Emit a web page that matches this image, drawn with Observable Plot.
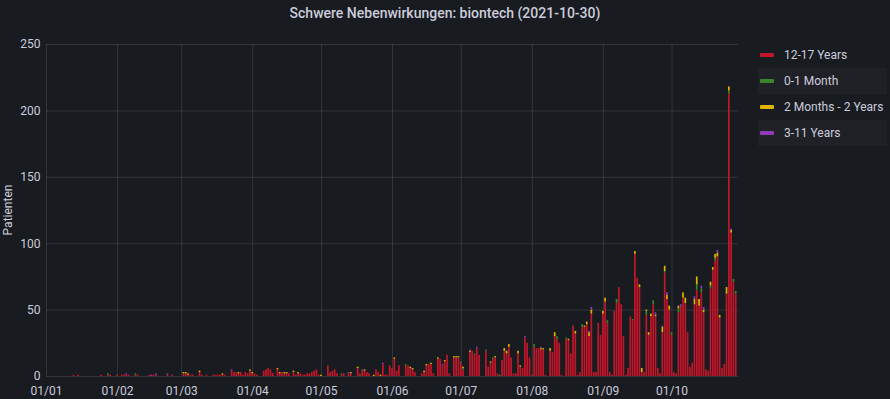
<!DOCTYPE html>
<html><head><meta charset="utf-8">
<script src="https://cdn.jsdelivr.net/npm/d3@7"></script>
<script src="https://cdn.jsdelivr.net/npm/@observablehq/plot@0.6"></script>
<style>
html,body{margin:0;padding:0;background:#181b1f;}
#wrap{position:relative;width:890px;height:399px;background:#181b1f;font-family:Roboto,sans-serif;color:#ccccdc;overflow:hidden}
#title{position:absolute;left:0;top:5px;width:890px;text-align:center;font-size:14px;font-weight:500;line-height:17px}
#chart{position:absolute;left:0;top:30px}
#ylabel{position:absolute;left:8px;top:210px;transform:translate(-50%,-50%) rotate(-90deg);font-size:12px;white-space:nowrap;line-height:14px}
#legend{position:absolute;left:758px;top:42px;width:129px}
.item{height:26px;display:flex;align-items:center;font-size:12px}
.item:nth-child(even){background:#1f2126}
.sw{width:14px;height:4px;margin-left:2px;margin-right:10px;border-radius:1px;flex:none}
</style></head>
<body>
<div id="wrap">
  <div id="title">Schwere Nebenwirkungen: biontech (2021-10-30)</div>
  <div id="chart"></div>
  <div id="ylabel">Patienten</div>
  <div id="legend"></div>
</div>
<script>
const seriesNames = ["12-17 Years", "0-1 Month", "2 Months - 2 Years", "3-11 Years"];
const seriesColors = ["#c4162a", "#37872d", "#e0b400", "#8f3bb8"];
const startDate = "2021-01-01";
const endDate = "2021-10-30";
const monthTicks = ["2021-01-01","2021-02-01","2021-03-01","2021-04-01","2021-05-01","2021-06-01","2021-07-01","2021-08-01","2021-09-01","2021-10-01"];
const yTicks = [0, 50, 100, 150, 200, 250];

// daily values from 2021-01-01 to 2021-10-29
const years12to17 = [
  /* Jan */ 0,0,0,0,0,0,0,0,0,0, 0,0,1,0,1,0,0,0,0,0, 0,0,0,0,1,0,0,1,1,0, 0,
  /* Feb */ 1,0,1,1,1,1,0,0,1,1, 0,0,0,0,1,0,1,1,0,0, 0,0,1,0,1,0,0,0,
  /* Mar */ 0,2,2,1,1,1,0,0,3,1, 0,1,0,0,1,1,1,1,1,1, 0,0,4,3,3,2,3,1,3,2, 4,
  /* Apr */ 2,2,1,0,0,4,5,6,5,2, 0,5,2,3,2,2,2,0,3,1, 2,2,1,1,2,2,3,4,5,1,
  /* May */ 0,0,0,8,3,4,5,2,0,1, 2,0,2,2,0,0,6,2,4,4, 3,2,0,0,5,3,0,9,1,1, 8,
  /* Jun */ 6,13,4,8,0,0,8,8,6,5, 3,0,0,2,3,8,9,9,2,0, 13,13,8,11,16,2,0,14,14,14,
  /* Jul */ 10,5,0,0,18,19,16,21,16,0, 0,19,7,10,13,14,2,0,12,19, 17,22,14,2,2,17,7,6,29,25, 14,
  /* Aug */ 1,22,21,21,20,20,1,0,19,18, 30,28,25,1,0,28,27,17,38,32, 1,3,37,37,39,30,47,3,3,40, 31,
  /* Sep */ 47,56,40,3,1,49,55,67,54,30, 1,6,45,42,92,74,67,3,3,46, 31,45,54,45,6,2,33,78,58,50,
  /* Oct */ 31,3,2,48,52,59,55,33,7,10, 54,65,53,63,48,5,4,66,80,87, 90,44,6,9,62,213,108,71,62
];
const month0to1 = [
  /* Jan */ 0,0,0,0,0,0,0,0,0,0, 0,0,0,0,0,0,0,0,0,0, 0,0,0,0,0,0,0,1,0,0, 0,
  /* Feb */ 0,0,0,0,0,0,0,0,1,0, 0,0,0,0,0,0,0,0,0,0, 0,0,0,0,0,0,0,0,
  /* Mar */ 0,0,0,0,0,0,0,0,0,0, 0,0,0,0,0,0,0,0,0,0, 0,0,0,0,0,0,0,0,0,0, 0,
  /* Apr */ 0,0,0,0,0,0,0,0,0,0, 0,0,0,0,0,0,0,0,0,0, 0,0,0,0,0,0,0,0,0,0,
  /* May */ 0,0,0,0,0,0,0,0,0,1, 0,0,0,0,0,0,0,0,0,0, 0,0,0,0,0,0,0,0,0,0, 0,
  /* Jun */ 0,0,0,0,0,0,1,0,0,0, 0,0,0,0,0,0,0,0,0,0, 0,0,0,0,0,0,0,0,0,0,
  /* Jul */ 1,1,0,0,0,0,1,0,0,0, 0,1,0,0,1,0,0,1,0,0, 0,0,0,0,0,0,0,0,0,0, 0,
  /* Aug */ 0,2,0,0,0,0,0,0,0,0, 0,2,0,0,0,1,0,0,0,0, 0,0,2,0,0,0,0,0,0,0, 0,
  /* Sep */ 0,0,2,0,0,0,3,0,0,0, 0,0,0,1,0,0,0,0,0,3, 0,0,3,0,0,0,0,1,0,0,
  /* Oct */ 2,0,0,3,0,0,0,0,0,0, 0,4,0,3,0,0,0,2,0,2, 0,0,0,0,0,2,0,2,2
];
const months2to2years = [
  /* Jan */ 0,0,0,0,0,0,0,0,0,0, 0,0,0,0,0,0,0,0,0,0, 0,0,0,0,0,0,0,0,0,0, 0,
  /* Feb */ 0,0,0,0,0,0,0,0,0,0, 0,0,0,0,0,0,0,0,0,0, 0,0,0,0,0,0,0,0,
  /* Mar */ 0,1,1,1,0,0,0,0,1,0, 0,0,0,0,0,0,0,0,1,0, 0,0,0,0,0,1,0,0,0,0, 1,
  /* Apr */ 1,0,0,0,0,0,0,0,0,0, 0,1,1,0,1,1,0,0,1,0, 1,0,0,0,0,0,0,0,0,0,
  /* May */ 1,0,0,0,0,0,0,0,0,0, 0,0,0,1,0,0,1,0,0,1, 0,0,0,1,0,0,1,0,0,0, 0,
  /* Jun */ 0,1,0,0,0,0,0,0,1,1, 0,0,0,0,1,1,0,1,0,0, 1,0,0,1,0,0,0,1,1,1,
  /* Jul */ 0,1,0,0,1,0,0,0,0,0, 0,0,0,1,0,1,0,0,0,2, 2,2,0,0,0,2,1,0,0,0, 0,
  /* Aug */ 0,0,0,0,1,1,0,0,2,0, 3,0,0,0,0,0,1,0,0,2, 0,0,0,1,2,3,3,0,0,0, 0,
  /* Sep */ 2,3,0,0,0,0,0,0,0,0, 0,0,0,0,2,0,2,3,0,1, 2,2,0,1,0,0,4,4,3,3,
  /* Oct */ 0,0,0,2,0,4,4,0,0,0, 4,6,5,0,2,0,0,3,2,3, 3,2,0,0,5,3,2,0,0
];
const years3to11 = [
  /* Jan */ 0,0,0,0,0,0,0,0,0,0, 0,0,0,0,0,0,0,0,0,0, 0,0,0,0,0,0,0,0,0,0, 0,
  /* Feb */ 0,0,0,0,1,0,0,0,0,0, 0,0,0,0,0,1,0,1,0,0, 0,0,1,0,0,0,0,0,
  /* Mar */ 0,0,0,0,0,0,0,0,0,0, 0,0,0,0,0,0,0,0,0,0, 0,0,1,0,0,0,0,0,0,0, 0,
  /* Apr */ 0,0,0,0,0,0,0,0,0,0, 0,0,0,0,0,0,0,0,0,0, 0,0,0,0,0,0,0,0,0,0,
  /* May */ 0,0,0,0,0,0,0,0,0,0, 0,0,1,0,0,0,0,0,1,0, 0,0,0,0,0,0,0,1,0,0, 0,
  /* Jun */ 0,0,0,0,0,0,0,0,0,0, 0,0,0,0,0,0,0,0,0,0, 0,0,1,0,0,0,0,0,0,0,
  /* Jul */ 0,0,0,0,1,0,0,1,0,0, 0,0,0,0,0,0,0,0,0,0, 0,0,0,0,0,0,0,0,1,0, 0,
  /* Aug */ 0,0,0,0,1,0,0,0,0,0, 0,0,0,0,0,0,0,0,0,0, 0,0,0,0,0,1,2,0,0,0, 0,
  /* Sep */ 0,0,0,0,0,0,0,0,0,0, 0,0,0,0,0,0,0,0,0,0, 0,0,0,2,0,0,1,0,2,0,
  /* Oct */ 0,0,0,0,2,0,0,0,0,0, 2,0,0,2,2,0,0,0,0,0, 2,0,0,0,0,0,1,0,0
];

const seriesValues = [years12to17, month0to1, months2to2years, years3to11];
const t0 = new Date(startDate + "T00:00:00Z");
const rows = [];
years12to17.forEach((_, i) => {
  const date = d3.utcDay.offset(t0, i);
  let base = 0;
  seriesValues.forEach((vals, s) => {
    const v = vals[i];
    if (v > 0) rows.push({date, series: seriesNames[s], y1: base, y2: base + v});
    base += v;
  });
});
const half = 0.37 * 864e5;
const ticksX = monthTicks.map(s => new Date(s + "T00:00:00Z"));

const chart = Plot.plot({
  width: 890, height: 369,
  marginTop: 14, marginBottom: 23, marginLeft: 46, marginRight: 152,
  style: {background: "#181b1f", color: "#ccccdc", fontFamily: "Roboto, sans-serif", fontSize: "12px"},
  x: {type: "utc", domain: [t0, new Date(endDate + "T00:00:00Z")], ticks: ticksX, tickFormat: d3.utcFormat("%d/%m"), tickSize: 0, tickPadding: 10, label: null},
  y: {domain: [0, 250], ticks: yTicks, tickSize: 0, tickPadding: 6, label: null},
  color: {domain: seriesNames, range: seriesColors},
  marks: [
    Plot.ruleY(yTicks, {stroke: "#ccccdc", strokeOpacity: 0.14}),
    Plot.ruleX(ticksX, {stroke: "#ccccdc", strokeOpacity: 0.14}),
    Plot.rect(rows, {
      x1: d => new Date(+d.date - half),
      x2: d => new Date(+d.date + half),
      y1: "y1", y2: "y2", fill: "series"
    })
  ]
});
document.getElementById("chart").appendChild(chart);

const legend = document.getElementById("legend");
seriesNames.forEach((name, i) => {
  const item = document.createElement("div");
  item.className = "item";
  const sw = document.createElement("span");
  sw.className = "sw";
  sw.style.background = seriesColors[i];
  const label = document.createElement("span");
  label.textContent = name;
  item.appendChild(sw);
  item.appendChild(label);
  legend.appendChild(item);
});
</script>
</body></html>
